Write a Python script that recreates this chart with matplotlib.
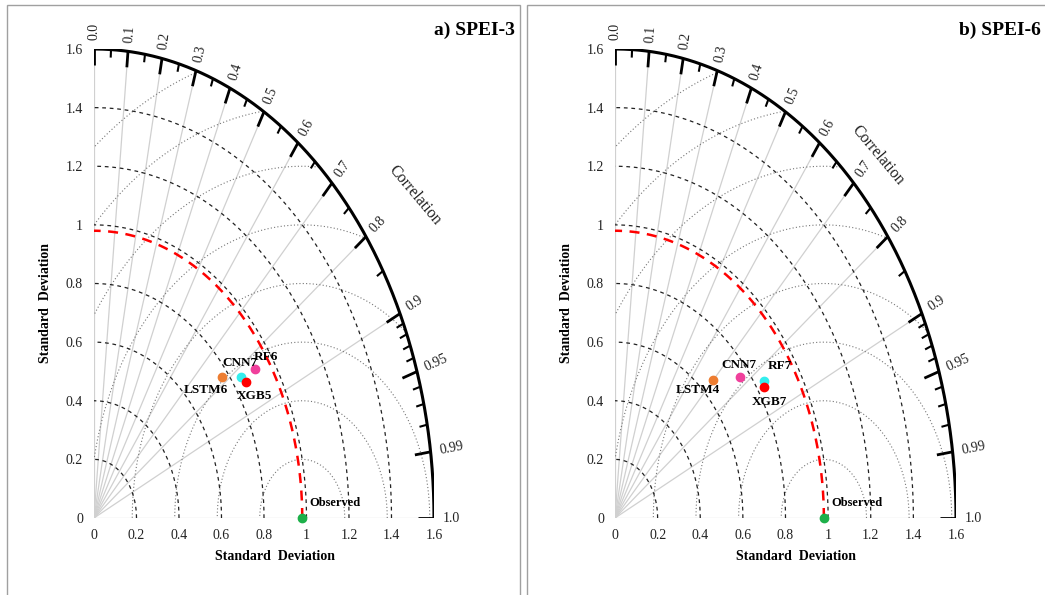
import numpy as np
import matplotlib
matplotlib.use("Agg")
import matplotlib.pyplot as plt
from matplotlib.patches import Rectangle

plt.rcParams['font.family'] = ['Liberation Serif', 'DejaVu Serif']

# data (std dev, correlation)
names_a = ['LSTM6', 'CNN7', 'RF6', 'XGB5']
std_a = [0.771, 0.843, 0.912, 0.852]
corr_a = [0.781, 0.821, 0.831, 0.839]
obs_std_a = 0.98

names_b = ['LSTM4', 'CNN7', 'RF7', 'XGB7']
std_b = [0.658, 0.759, 0.842, 0.831]
corr_b = [0.699, 0.773, 0.831, 0.843]
obs_std_b = 0.98

std_ticks = [0, 0.2, 0.4, 0.6, 0.8, 1, 1.2, 1.4, 1.6]
corr_major = [0.0, 0.1, 0.2, 0.3, 0.4, 0.5, 0.6, 0.7, 0.8, 0.9, 0.95, 0.99]
corr_minor = [0.05, 0.15, 0.25, 0.35, 0.45, 0.55, 0.65, 0.75, 0.85,
              0.91, 0.92, 0.93, 0.94, 0.96, 0.97, 0.98]

colors_a = ['#ED7D31', '#33EEEE', '#F0409C', '#FF0000']
colors_b = ['#ED7D31', '#F0409C', '#33EEEE', '#FF0000']
# label offsets in pixels (dx, dy)
offs_a = [(-16, -13), (-1, 14), (11, 12), (9, -14)]
offs_b = [(-15, -10), (-1, 12), (16, 15), (5, -15)]

W, H = 1045, 595
RMAX = 1.6


def taylor(ax, names, stds, corrs, colors, offs, obs_std, corr_pos):
    pos = ax.get_position()
    sx = pos.width * W / RMAX
    sy = pos.height * H / RMAX
    t = np.linspace(0, np.pi / 2, 300)

    # radial correlation lines
    for c in [0.0, 0.1, 0.2, 0.3, 0.4, 0.5, 0.6, 0.7, 0.8, 0.9, 1.0]:
        th = np.arccos(c)
        ax.plot([0, RMAX * np.cos(th)], [0, RMAX * np.sin(th)],
                color='#d0d0d0', lw=0.9, zorder=1)

    # RMS circles round the observed point
    tt = np.linspace(0, np.pi, 600)
    for r in np.arange(0.2, 1.61, 0.2):
        x = obs_std + r * np.cos(tt)
        y = r * np.sin(tt)
        bad = (np.hypot(x, y) > RMAX) | (x < 0)
        x = np.where(bad, np.nan, x)
        ax.plot(x, y, color='#777777', lw=0.8, ls=(0, (1, 2)), zorder=1)

    # std dev arcs
    for r in [0.2, 0.4, 0.6, 0.8, 1.0, 1.2, 1.4]:
        ax.plot(r * np.cos(t), r * np.sin(t), color='#222222', lw=0.9,
                ls=(0, (3, 3)), zorder=2)
    ax.plot(obs_std * np.cos(t), obs_std * np.sin(t), color='red', lw=1.8,
            ls=(0, (4, 3)), zorder=3)
    ax.plot(RMAX * np.cos(t), RMAX * np.sin(t), color='black', lw=2.2,
            zorder=4)

    # ticks on the correlation arc
    for cs, L in [(corr_major + [1.0], 16), (corr_minor, 8)]:
        for c in cs:
            th = np.arccos(c)
            dx, dy = sx * np.cos(th), sy * np.sin(th)
            n = np.hypot(dx, dy)
            x0, y0 = RMAX * np.cos(th), RMAX * np.sin(th)
            ax.plot([x0, x0 - L * dx / n / sx], [y0, y0 - L * dy / n / sy],
                    color='black', lw=2 if L > 10 else 1.5, zorder=4,
                    solid_capstyle='butt')
    for c in corr_major + [1.0]:
        th = np.arccos(c)
        dx, dy = sx * np.cos(th), sy * np.sin(th)
        n = np.hypot(dx, dy)
        x0 = RMAX * np.cos(th) + 9 * dx / n / sx
        y0 = RMAX * np.sin(th) + 9 * dy / n / sy
        rot = np.degrees(np.arctan2(dy, dx))
        lab = '%.1f' % c if c in (0.0, 1.0) or round(c * 10, 6) % 1 == 0 else str(c)
        ax.text(x0, y0, lab, rotation=rot, rotation_mode='anchor', ha='left',
                va='center', fontsize=10, color='#222222')

    ax.text(corr_pos[0], corr_pos[1], 'Correlation', transform=ax.transAxes,
            rotation=-50, ha='center', va='center', fontsize=11.5,
            color='#222222')

    # models
    for nm, s, c, col, off in zip(names, stds, corrs, colors, offs):
        th = np.arccos(c)
        x, y = s * np.cos(th), s * np.sin(th)
        ax.plot(x, y, 'o', color=col, ms=6, zorder=6, clip_on=False)
        ax.annotate(nm, (x, y), xytext=off, textcoords='offset pixels',
                    ha='center', va='center', fontsize=9.5, fontweight='bold',
                    zorder=7)
    ax.plot(obs_std, 0, 'o', color='#1DB04A', ms=6, zorder=6, clip_on=False)
    ax.annotate('Observed', (obs_std, 0), xytext=(33, 15),
                textcoords='offset pixels', ha='center', va='center',
                fontsize=9, fontweight='bold', zorder=7)

    ax.set_xlim(0, RMAX)
    ax.set_ylim(0, RMAX)
    ax.set_xticks(std_ticks)
    ax.set_yticks(std_ticks)
    ax.set_xticklabels(['%g' % v for v in std_ticks])
    ax.set_yticklabels(['%g' % v for v in std_ticks])
    ax.tick_params(length=0, labelsize=10, labelcolor='#222222', pad=8)
    for sp in ax.spines.values():
        sp.set_visible(False)
    ax.set_xlabel('Standard  Deviation', fontsize=10, fontweight='bold')
    ax.set_ylabel('Standard  Deviation', fontsize=10, fontweight='bold')
    ax.xaxis.set_label_coords(0.532, -0.068)
    ax.yaxis.set_label_coords(-0.124, 0.458)


fig = plt.figure(figsize=(W / 100, H / 100), dpi=100)

ax1 = fig.add_axes([94 / W, 77 / H, 340 / W, 469 / H])
ax2 = fig.add_axes([615 / W, 77 / H, 341 / W, 469 / H])

taylor(ax1, names_a, std_a, corr_a, colors_a, offs_a, obs_std_a, (0.944, 0.689))
taylor(ax2, names_b, std_b, corr_b, colors_b, offs_b, obs_std_b, (0.771, 0.774))

fig.text(515 / W, 1 - 30 / H, 'a) SPEI-3', ha='right', va='center',
         fontsize=14, fontweight='bold')
fig.text(1041 / W, 1 - 30 / H, 'b) SPEI-6', ha='right', va='center',
         fontsize=14, fontweight='bold')

# panel frames
fig.add_artist(Rectangle((7 / W, -0.1), 513 / W, 1.1 - 5 / H,
                         transform=fig.transFigure, fill=False,
                         ec='#a0a0a0', lw=1))
fig.add_artist(Rectangle((527 / W, -0.1), 530 / W, 1.1 - 5 / H,
                         transform=fig.transFigure, fill=False,
                         ec='#a0a0a0', lw=1))

fig.savefig('out.png', dpi=100)
